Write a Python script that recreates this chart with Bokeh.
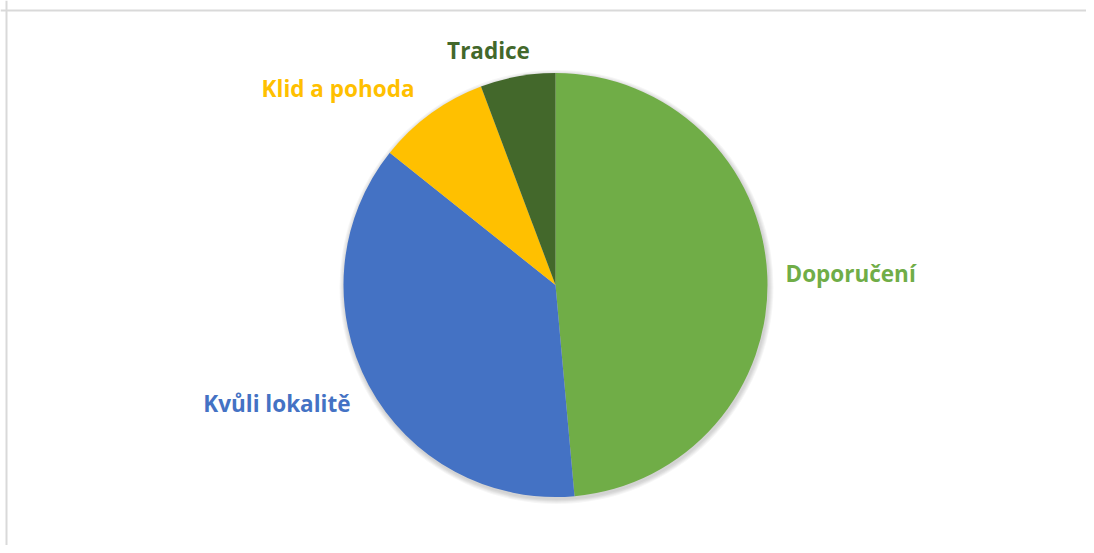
import math
from bokeh.plotting import figure
from bokeh.models import Range1d, ColumnDataSource, Span
from bokeh.core.properties import value
from bokeh.embed import file_html
from bokeh.resources import INLINE

# ---- data ----
categories = ["Doporučení", "Kvůli lokalitě", "Klid a pohoda", "Tradice"]
counts = [17, 13, 3, 2]
colors = ["#70AD47", "#4472C4", "#FFC000", "#43682B"]

# ---- layout (pixel units) ----
W, H = 1086, 545
cx, cy, R = 555, H - 284.5, 212
# label offsets from pie centre and alignment
label_dx = [230, -205, -141, -67]
label_dy = [11.5, -118, 197, 235]
label_align = ["left", "right", "right", "center"]

total = sum(counts)
starts, ends = [], []
acc = 0.0
for c in counts:
    t0 = acc / total * 2 * math.pi
    acc += c
    t1 = acc / total * 2 * math.pi
    starts.append(math.pi / 2 - t0)
    ends.append(math.pi / 2 - t1)

p = figure(width=W, height=H, output_backend="svg", toolbar_location=None,
           x_range=Range1d(0, W), y_range=Range1d(0, H), min_border=0,
           outline_line_color=None)
p.axis.visible = False
p.grid.visible = False
p.background_fill_color = "white"
p.border_fill_color = "white"

# chart area border (left/top visible in window)
p.add_layout(Span(location=6, dimension="height", line_color="#d9d9d9", line_width=2))
p.add_layout(Span(location=H - 10, dimension="width", line_color="#d9d9d9", line_width=2))

# soft shadow
for k in range(1, 6):
    p.circle(x=[cx + 1], y=[cy - 2], radius=R + k, fill_color="black",
             fill_alpha=0.035, line_color=None)

src = ColumnDataSource(dict(cat=categories, val=counts, color=colors,
                            start=starts, end=ends))
p.wedge(x=cx, y=cy, radius=R, start_angle="start", end_angle="end",
        direction="clock", fill_color="color", line_color=None, source=src)

for cat, col, dx, dy, al in zip(categories, colors, label_dx, label_dy, label_align):
    p.text(x=[cx + dx], y=[cy + dy], text=[cat], text_color=col,
           text_font=value("Open Sans"), text_font_style="bold",
           text_font_size="22.5px", text_align=al, text_baseline="alphabetic")

open("out.html", "w").write(file_html(p, INLINE))
